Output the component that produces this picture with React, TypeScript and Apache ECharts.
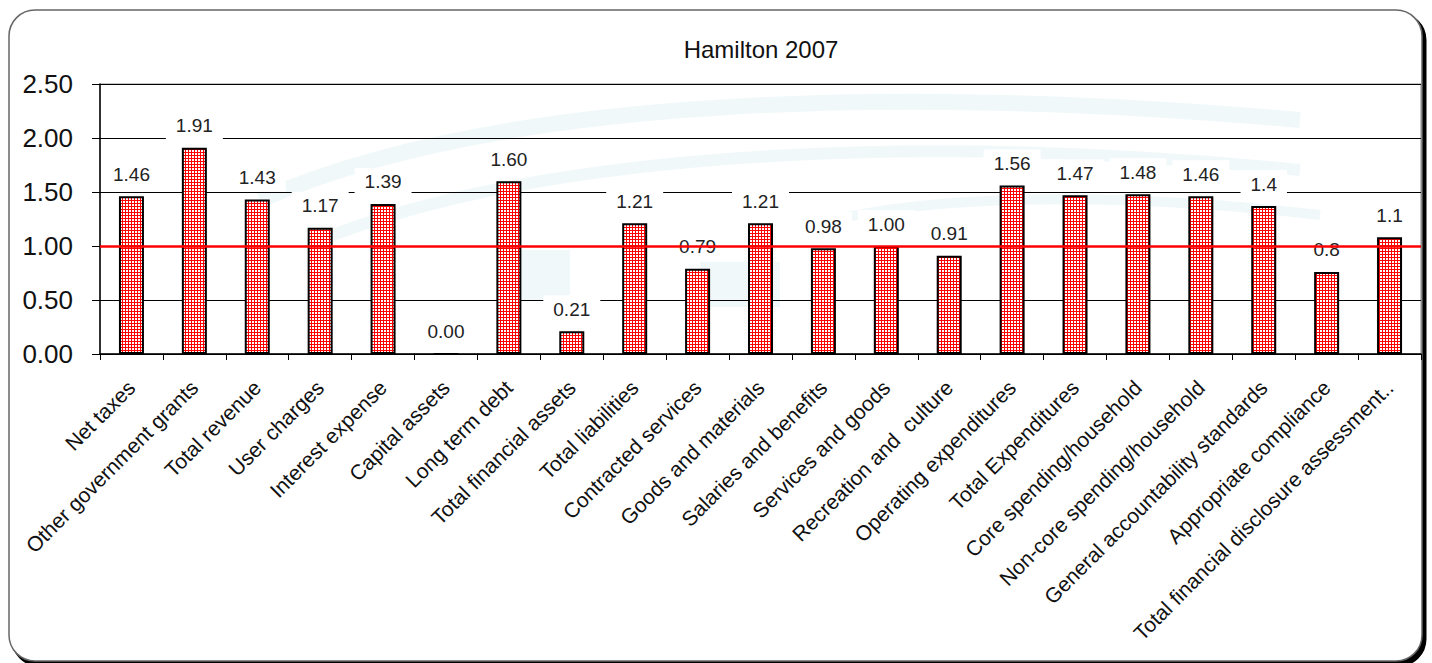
import React, { useEffect, useRef } from "react";
import * as echarts from "echarts";

const categories = [
  "Net taxes",
  "Other government grants",
  "Total revenue",
  "User charges",
  "Interest expense",
  "Capital assets",
  "Long term debt",
  "Total financial assets",
  "Total liabilities",
  "Contracted services",
  "Goods and materials",
  "Salaries and benefits",
  "Services and goods",
  "Recreation and  culture",
  "Operating expenditures",
  "Total Expenditures",
  "Core spending/household",
  "Non-core spending/household",
  "General accountability standards",
  "Appropriate compliance",
  "Total financial disclosure assessment..",
];

const values = [
  1.46, 1.91, 1.43, 1.17, 1.39, 0.0, 1.6, 0.21, 1.21, 0.79, 1.21, 0.98, 1.0,
  0.91, 1.56, 1.47, 1.48, 1.46, 1.37, 0.76, 1.08,
];

const valueLabels = [
  "1.46", "1.91", "1.43", "1.17", "1.39", "0.00", "1.60", "0.21", "1.21",
  "0.79", "1.21", "0.98", "1.00", "0.91", "1.56", "1.47", "1.48", "1.46",
  "1.4", "0.8", "1.1",
];

const title = "Hamilton 2007";
const referenceValue = 1.0;
const yMin = 0;
const yMax = 2.5;
const yStep = 0.5;

const FONT = "'Liberation Sans', Arial, sans-serif";

function makePattern(): HTMLCanvasElement {
  const c = document.createElement("canvas");
  c.width = 3;
  c.height = 3;
  const ctx = c.getContext("2d")!;
  ctx.fillStyle = "#ffffff";
  ctx.fillRect(0, 0, 3, 3);
  ctx.fillStyle = "#ff0000";
  ctx.fillRect(2, 0, 1, 3);
  ctx.fillRect(0, 2, 3, 1);
  return c;
}

export default function App() {
  const ref = useRef<HTMLDivElement>(null);

  useEffect(() => {
    if (!ref.current) return;
    const chart = echarts.init(ref.current, null, { renderer: "svg" });
    const pattern = makePattern();
    const swoosh = "rgba(214,236,242,0.35)";

    const option: any = {
      animation: false,
      backgroundColor: "transparent",
      title: {
        text: title,
        left: 761,
        top: 37,
        textAlign: "center",
        padding: 0,
        textStyle: {
          fontFamily: FONT,
          fontSize: 24,
          fontWeight: "normal",
          color: "#111",
        },
      },
      graphic: [
        {
          type: "rect",
          z: -20,
          silent: true,
          shape: { x: 13, y: 14, width: 1412, height: 651, r: 26 },
          style: { fill: "#000", stroke: "#000", lineWidth: 3 },
        },
        {
          type: "rect",
          z: -19,
          silent: true,
          shape: { x: 9, y: 10, width: 1413, height: 651, r: 26 },
          style: { fill: "#fff", stroke: "#666", lineWidth: 1.5 },
        },
        {
          type: "bezierCurve",
          z: -18,
          silent: true,
          shape: { x1: 260, y1: 200, x2: 1300, y2: 120, cpx1: 500, cpy1: 95, cpx2: 900, cpy2: 85 },
          style: { stroke: swoosh, lineWidth: 16, fill: "none" },
        },
        {
          type: "bezierCurve",
          z: -18,
          silent: true,
          shape: { x1: 320, y1: 240, x2: 1300, y2: 170, cpx1: 560, cpy1: 145, cpx2: 950, cpy2: 135 },
          style: { stroke: swoosh, lineWidth: 12, fill: "none" },
        },
        {
          type: "bezierCurve",
          z: -18,
          silent: true,
          shape: { x1: 800, y1: 230, x2: 1320, y2: 215, cpx1: 900, cpy1: 195, cpx2: 1100, cpy2: 190 },
          style: { stroke: swoosh, lineWidth: 10, fill: "none" },
        },
        {
          type: "rect",
          z: -18,
          silent: true,
          shape: { x: 700, y: 262, width: 80, height: 45 },
          style: { fill: swoosh },
        },
        {
          type: "rect",
          z: -18,
          silent: true,
          shape: { x: 500, y: 250, width: 70, height: 50 },
          style: { fill: swoosh },
        },
      ],
      grid: {
        left: 100,
        right: 11,
        top: 84,
        bottom: 309,
        show: true,
        borderColor: "#888",
        borderWidth: 1,
        backgroundColor: "transparent",
      },
      xAxis: {
        type: "category",
        data: categories,
        boundaryGap: true,
        axisLine: { lineStyle: { color: "#000", width: 1.5 } },
        axisTick: {
          show: true,
          alignWithLabel: false,
          length: 6,
          lineStyle: { color: "#000" },
        },
        axisLabel: {
          interval: 0,
          rotate: 45,
          margin: 30,
          fontFamily: FONT,
          fontSize: 21,
          color: "#111",
        },
      },
      yAxis: {
        type: "value",
        min: yMin,
        max: yMax,
        interval: yStep,
        axisLine: { show: true, lineStyle: { color: "#000", width: 1.5 } },
        axisTick: { show: true, length: 8, lineStyle: { color: "#000" } },
        splitLine: { show: true, lineStyle: { color: "#000", width: 1 } },
        axisLabel: {
          margin: 27,
          fontFamily: FONT,
          fontSize: 26,
          color: "#111",
          formatter: (v: number) => v.toFixed(2),
        },
      },
      series: [
        {
          type: "bar",
          data: values,
          barWidth: 25,
          itemStyle: {
            color: { image: pattern, repeat: "repeat" },
            borderColor: "#000",
            borderWidth: 2,
          },
          label: {
            show: true,
            position: "top",
            distance: 8,
            formatter: (p: any) => valueLabels[p.dataIndex],
            fontFamily: FONT,
            fontSize: 19,
            lineHeight: 18,
            color: "#222",
            backgroundColor: "#fff",
            padding: [5, 10],
          },
          markLine: {
            silent: true,
            symbol: "none",
            label: { show: false },
            lineStyle: { color: "#ff0000", width: 2.5, type: "solid" },
            data: [{ yAxis: referenceValue }],
          },
        },
      ],
    };

    chart.setOption(option);
    return () => chart.dispose();
  }, []);

  return (
    <div
      ref={ref}
      style={{
        position: "fixed",
        left: 0,
        top: 0,
        width: 1432,
        height: 663,
        background: "#fff",
      }}
    />
  );
}
